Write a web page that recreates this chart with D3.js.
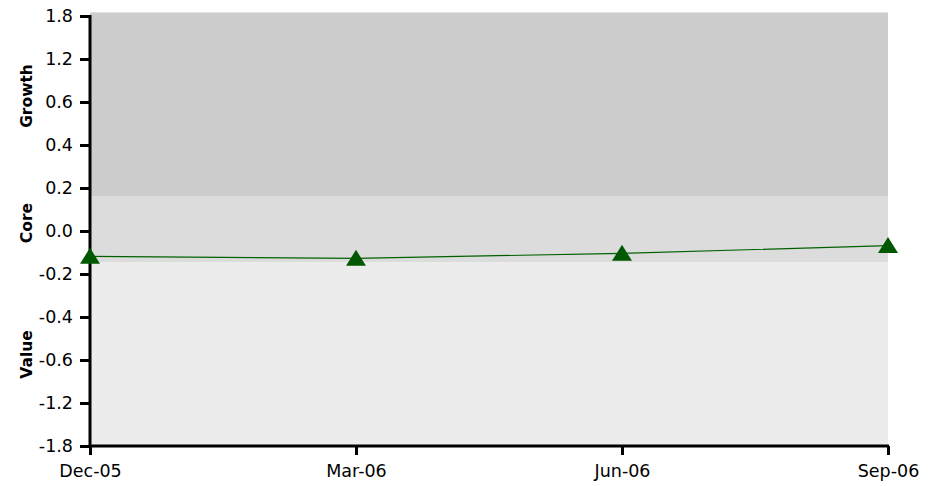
<!DOCTYPE html>
<html><head><meta charset="utf-8">
<script src="https://cdn.jsdelivr.net/npm/d3@7"></script>
<style>body{margin:0;background:#fff}svg{display:block}</style>
</head><body><svg id="c" width="937" height="486"></svg>
<script>
const categories = ["Dec-05", "Mar-06", "Jun-06", "Sep-06"];
const values = [-0.118, -0.127, -0.104, -0.068];
const yTicks = [-1.8, -1.2, -0.6, -0.4, -0.2, 0.0, 0.2, 0.4, 0.6, 1.2, 1.8];
const bandNames = ["Growth", "Core", "Value"];
const bandFrom = [0.16, -0.147, -1.8];
const bandTo = [1.85, 0.16, -0.147];
const bandLabelAt = [0.684, 0.037, -0.574];
const bandColors = ["#cccccc", "#dcdcdc", "#ececec"];

const svg = d3.select("#c");
const mLeft = 90, mRight = 888, mTop = 16, mBottom = 446;
const step = (mBottom - mTop) / (yTicks.length - 1);
const y = d3.scaleLinear().domain(yTicks).range(yTicks.map((d, i) => mBottom - i * step));
const x = d3.scalePoint().domain(categories).range([mLeft, mRight]);

svg.selectAll("rect.band").data(bandNames).join("rect")
  .attr("x", mLeft).attr("width", mRight - mLeft)
  .attr("y", (d, i) => y(bandTo[i])).attr("height", (d, i) => y(bandFrom[i]) - y(bandTo[i]))
  .attr("fill", (d, i) => bandColors[i]);

const font = "DejaVu Sans, Verdana, sans-serif";
const fmt = d => d.toFixed(1);
const yAxis = svg.append("g").attr("transform", `translate(${mLeft},0)`)
  .call(d3.axisLeft(y).tickValues(yTicks).tickSize(10).tickPadding(7).tickFormat(fmt));
const xAxis = svg.append("g").attr("transform", `translate(0,${mBottom})`)
  .call(d3.axisBottom(x).tickSize(9).tickPadding(10));
[yAxis, xAxis].forEach(a => {
  a.attr("font-size", null);
  a.selectAll("path.domain").attr("stroke", "#000").attr("stroke-width", 3);
  a.selectAll(".tick line").attr("stroke", "#000").attr("stroke-width", 3);
  a.selectAll(".tick text").attr("fill", "#000").attr("font-family", font).attr("font-size", 17.5);
});
yAxis.selectAll("path.domain").attr("d", `M0,${mBottom + 1}V${y(1.8) - 1}`);
xAxis.selectAll("path.domain").attr("d", `M${mLeft},0H${mRight + 1}`);

svg.selectAll("text.band").data(bandNames).join("text")
  .attr("transform", (d, i) => `translate(32,${y(bandLabelAt[i])}) rotate(-90)`)
  .attr("text-anchor", "middle")
  .attr("font-family", font).attr("font-size", 15.5).attr("font-weight", "bold")
  .attr("fill", "#000").text(d => d);

const line = d3.line().x((d, i) => x(categories[i])).y(d => y(d));
svg.append("path").datum(values).attr("d", line)
  .attr("fill", "none").attr("stroke", "#006000").attr("stroke-width", 1.2);

svg.selectAll("path.mk").data(values).join("path")
  .attr("transform", (d, i) => `translate(${x(categories[i])},${y(d)})`)
  .attr("d", "M0,-8.5L10,7.5L-10,7.5Z").attr("fill", "#005800");
</script></body></html>
